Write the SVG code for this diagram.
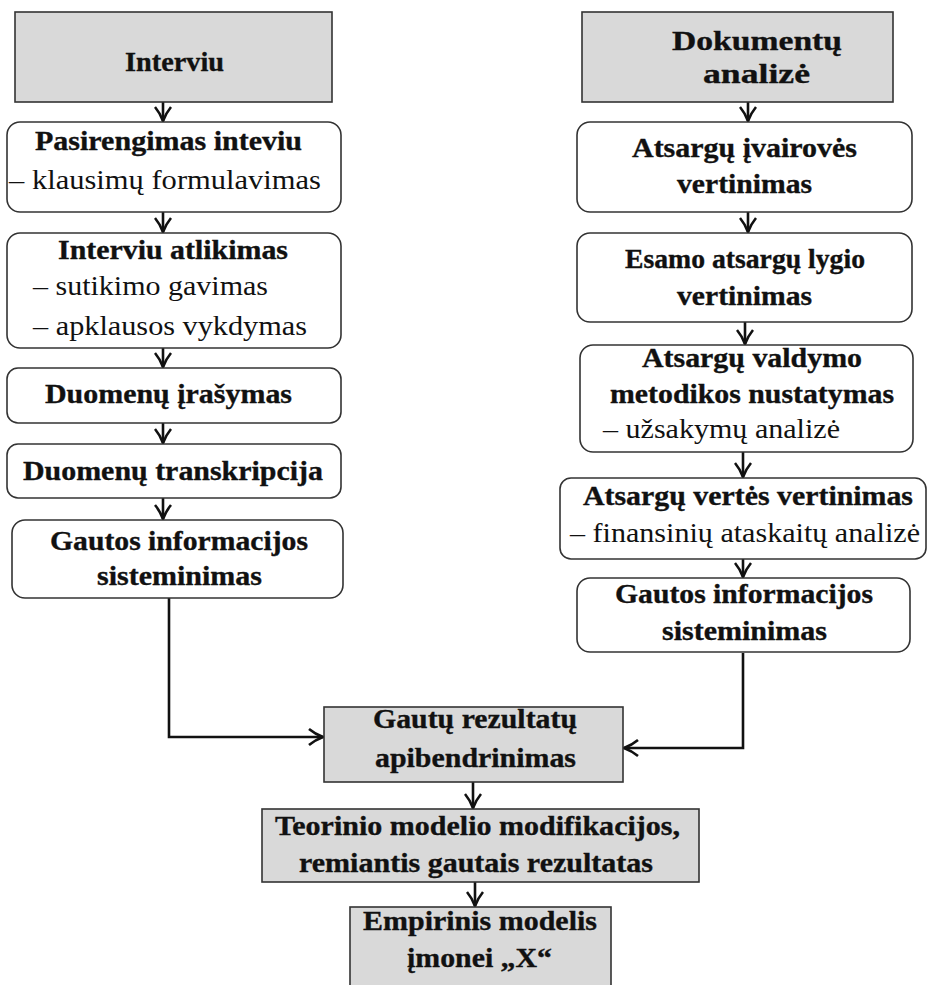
<svg xmlns="http://www.w3.org/2000/svg" width="927" height="985" viewBox="0 0 927 985">
<style>
.box{fill:#ffffff;stroke:#333333;stroke-width:1.6}
.gray{fill:#d9d9d9;stroke:#333333;stroke-width:1.6}
text{font-family:"Liberation Serif","Times New Roman",serif;font-size:28px;fill:#111111}
.b{font-weight:bold;stroke:#111111;stroke-width:0.35}
.con{fill:none;stroke:#111111;stroke-width:2.6}
</style>
<defs>
<marker id="arr" markerUnits="userSpaceOnUse" viewBox="0 0 18 20" refX="16" refY="10" markerWidth="18" markerHeight="20" orient="auto">
<path d="M2,2 Q8,7 16,10 Q8,13 2,18" fill="none" stroke="#111111" stroke-width="2.6" stroke-linejoin="miter"/>
</marker>
</defs>
<rect width="927" height="985" fill="#ffffff"/>
<g id="connectors">
<path class="con" d="M163,102 V121" marker-end="url(#arr)"/>
<path class="con" d="M163,212 V232" marker-end="url(#arr)"/>
<path class="con" d="M163,348 V367" marker-end="url(#arr)"/>
<path class="con" d="M163,423 V443" marker-end="url(#arr)"/>
<path class="con" d="M163,498 V519" marker-end="url(#arr)"/>
<path class="con" d="M748,102 V121" marker-end="url(#arr)"/>
<path class="con" d="M748,212 V232" marker-end="url(#arr)"/>
<path class="con" d="M745,322 V344" marker-end="url(#arr)"/>
<path class="con" d="M743,452 V477" marker-end="url(#arr)"/>
<path class="con" d="M743,559 V577" marker-end="url(#arr)"/>
<path class="con" d="M169,598 V737 H323" marker-end="url(#arr)"/>
<path class="con" d="M743,653 V748 H624" marker-end="url(#arr)"/>
<path class="con" d="M473,782 V808" marker-end="url(#arr)"/>
<path class="con" d="M475,882 V906" marker-end="url(#arr)"/>
</g>
<g id="interviu">
<rect class="gray" x="15" y="12" width="317" height="90"/>
<text class="b" x="125" y="71" textLength="99" lengthAdjust="spacingAndGlyphs">Interviu</text>
</g>
<g id="pasirengimas">
<rect class="box" x="7" y="122" width="334" height="90" rx="13"/>
<text class="b" x="35" y="150" textLength="267" lengthAdjust="spacingAndGlyphs">Pasirengimas inteviu</text>
<text x="9" y="189" textLength="312" lengthAdjust="spacingAndGlyphs">– klausimų formulavimas</text>
</g>
<g id="atlikimas">
<rect class="box" x="7" y="233" width="334" height="115" rx="13"/>
<text class="b" x="58" y="259" textLength="230" lengthAdjust="spacingAndGlyphs">Interviu atlikimas</text>
<text x="33" y="295" textLength="235" lengthAdjust="spacingAndGlyphs">– sutikimo gavimas</text>
<text x="33" y="335" textLength="274" lengthAdjust="spacingAndGlyphs">– apklausos vykdymas</text>
</g>
<g id="irasymas">
<rect class="box" x="7" y="368" width="334" height="55" rx="11"/>
<text class="b" x="45" y="403" textLength="247" lengthAdjust="spacingAndGlyphs">Duomenų įrašymas</text>
</g>
<g id="transkripcija">
<rect class="box" x="7" y="444" width="334" height="54" rx="11"/>
<text class="b" x="23" y="480" textLength="300" lengthAdjust="spacingAndGlyphs">Duomenų transkripcija</text>
</g>
<g id="gautos-l">
<rect class="box" x="12" y="520" width="331" height="78" rx="13"/>
<text class="b" x="50" y="550" textLength="258" lengthAdjust="spacingAndGlyphs">Gautos informacijos</text>
<text class="b" x="97" y="585" textLength="165" lengthAdjust="spacingAndGlyphs">sisteminimas</text>
</g>
<g id="dokumentu">
<rect class="gray" x="582" y="12" width="311" height="90"/>
<text class="b" x="672" y="50" textLength="170" lengthAdjust="spacingAndGlyphs">Dokumentų</text>
<text class="b" x="703" y="83" textLength="107" lengthAdjust="spacingAndGlyphs">analizė</text>
</g>
<g id="ivairoves">
<rect class="box" x="577" y="122" width="335" height="90" rx="13"/>
<text class="b" x="632" y="157" textLength="225" lengthAdjust="spacingAndGlyphs">Atsargų įvairovės</text>
<text class="b" x="677" y="193" textLength="135" lengthAdjust="spacingAndGlyphs">vertinimas</text>
</g>
<g id="esamo">
<rect class="box" x="577" y="233" width="335" height="89" rx="13"/>
<text class="b" x="625" y="268" textLength="240" lengthAdjust="spacingAndGlyphs">Esamo atsargų lygio</text>
<text class="b" x="677" y="305" textLength="135" lengthAdjust="spacingAndGlyphs">vertinimas</text>
</g>
<g id="valdymo">
<rect class="box" x="580" y="345" width="333" height="107" rx="13"/>
<text class="b" x="642" y="367" textLength="220" lengthAdjust="spacingAndGlyphs">Atsargų valdymo</text>
<text class="b" x="610" y="403" textLength="284" lengthAdjust="spacingAndGlyphs">metodikos nustatymas</text>
<text x="603" y="438" textLength="237" lengthAdjust="spacingAndGlyphs">– užsakymų analizė</text>
</g>
<g id="vertes">
<rect class="box" x="560" y="478" width="366" height="81" rx="11"/>
<text class="b" x="583" y="505" textLength="330" lengthAdjust="spacingAndGlyphs">Atsargų vertės vertinimas</text>
<text x="570" y="542" textLength="350" lengthAdjust="spacingAndGlyphs">– finansinių ataskaitų analizė</text>
</g>
<g id="gautos-r">
<rect class="box" x="577" y="578" width="333" height="74" rx="13"/>
<text class="b" x="615" y="603" textLength="258" lengthAdjust="spacingAndGlyphs">Gautos informacijos</text>
<text class="b" x="662" y="640" textLength="165" lengthAdjust="spacingAndGlyphs">sisteminimas</text>
</g>
<g id="apibendrinimas">
<rect class="gray" x="324" y="707" width="299" height="75"/>
<text class="b" x="373" y="728" textLength="204" lengthAdjust="spacingAndGlyphs">Gautų rezultatų</text>
<text class="b" x="375" y="767" textLength="201" lengthAdjust="spacingAndGlyphs">apibendrinimas</text>
</g>
<g id="teorinio">
<rect class="gray" x="262" y="809" width="437" height="73"/>
<text class="b" x="275" y="835" textLength="405" lengthAdjust="spacingAndGlyphs">Teorinio modelio modifikacijos,</text>
<text class="b" x="299" y="872" textLength="354" lengthAdjust="spacingAndGlyphs">remiantis gautais rezultatas</text>
</g>
<g id="empirinis">
<rect class="gray" x="350" y="907" width="261" height="90"/>
<text class="b" x="363" y="930" textLength="234" lengthAdjust="spacingAndGlyphs">Empirinis modelis</text>
<text class="b" x="407" y="967" textLength="145" lengthAdjust="spacingAndGlyphs">įmonei „X“</text>
</g>
</svg>
